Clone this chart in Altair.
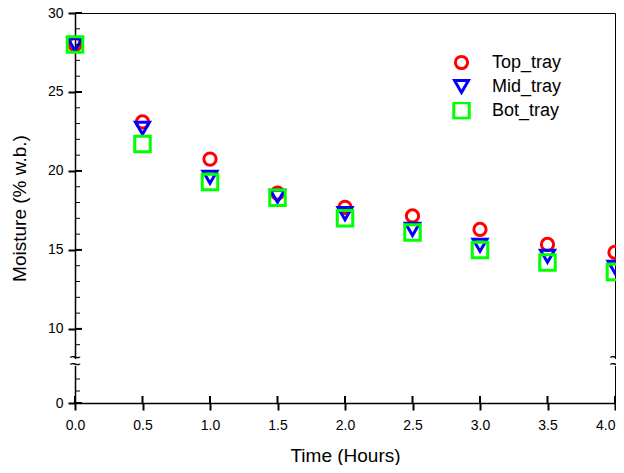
import altair as alt
import pandas as pd

# ---- data ----
time_h = [0.0, 0.5, 1.0, 1.5, 2.0, 2.5, 3.0, 3.5, 4.0]
top_tray = [28.0, 23.1, 20.75, 18.6, 17.7, 17.15, 16.3, 15.35, 14.85]
mid_tray = [28.0, 22.7, 19.6, 18.4, 17.3, 16.3, 15.3, 14.6, 13.9]
bot_tray = [28.0, 21.7, 19.3, 18.3, 17.0, 16.1, 15.0, 14.2, 13.6]

trays = ["Top_tray", "Mid_tray", "Bot_tray"]
colors = ["#FF0000", "#0000FF", "#00FF00"]
shapes = ["circle", "triangle-down", "square"]
sizes = [150, 240, 170]

x_ticks = [0.0, 0.5, 1.0, 1.5, 2.0, 2.5, 3.0, 3.5, 4.0]
y_major = [0, 10, 15, 20, 25, 30]
y_minor = [1, 2, 9, 11, 12, 13, 14, 16, 17, 18, 19, 21, 22, 23, 24, 26, 27, 28, 29]
y_break = [5.37]

rows = []
for name, vals in zip(trays, [top_tray, mid_tray, bot_tray]):
    for t, v in zip(time_h, vals):
        rows.append({"Time": t, "Moisture": v, "Tray": name})
df = pd.DataFrame(rows)

W, H = 540, 390
FONT = "Liberation Sans"

xscale = alt.Scale(domain=[0, 4], nice=False, zero=False)
# broken y axis: piecewise linear scale
yscale = alt.Scale(domain=[0, 2, 9, 30], range=[390, 366, 331.7, 0], nice=False, zero=False)

leg = alt.Legend(title=None, orient="none", legendX=377, legendY=41, padding=0,
                 labelFontSize=18, labelFont=FONT, labelColor="black", labelOffset=21,
                 rowPadding=5, clipHeight=17, symbolStrokeWidth=3, symbolFillColor="transparent")

points = alt.Chart(df).mark_point(filled=False, strokeWidth=3, opacity=1).encode(
    x=alt.X("Time:Q", scale=xscale,
            axis=alt.Axis(values=x_ticks, format=".1f", title="Time (Hours)",
                          titleX=W / 2, titleY=58, titleBaseline="alphabetic", titleAlign="center",
                          labelPadding=8, labelFlush=False,
                          labelAlign={"condition": {"test": "datum.value >= 4", "value": "right"},
                                      "value": "center"})),
    y=alt.Y("Moisture:Q", scale=yscale,
            axis=alt.Axis(values=y_major, format="d", title="Moisture (% w.b.)",
                          titleX=-50, titleY=H / 2, titleAngle=270, titleBaseline="alphabetic",
                          titleAlign="center", labelPadding=5, labelFlush=False)),
    color=alt.Color("Tray:N", scale=alt.Scale(domain=trays, range=colors), legend=leg),
    shape=alt.Shape("Tray:N", scale=alt.Scale(domain=trays, range=shapes), legend=leg),
    size=alt.Size("Tray:N", scale=alt.Scale(domain=trays, range=sizes), legend=leg),
)

# inward halves of the crossing ticks
ymaj_df = pd.DataFrame({"Moisture": y_major})
ymin_df = pd.DataFrame({"Moisture": y_minor})
x_df = pd.DataFrame({"Time": x_ticks})

ymaj_in = alt.Chart(ymaj_df).mark_rule(color="black", strokeWidth=2).encode(
    y=alt.Y("Moisture:Q", scale=yscale), x=alt.value(0), x2=alt.value(7))
ymin_in = alt.Chart(ymin_df).mark_rule(color="black", strokeWidth=1).encode(
    y=alt.Y("Moisture:Q", scale=yscale), x=alt.value(0), x2=alt.value(5))
x_in = alt.Chart(x_df).mark_rule(color="black", strokeWidth=2).encode(
    x=alt.X("Time:Q", scale=xscale), y=alt.value(H), y2=alt.value(H - 7))

# axis break marks
brk_df = pd.DataFrame({"Moisture": [b - 0.7 for b in y_break], "M2": [b + 0.7 for b in y_break]})
brk_txt = pd.DataFrame({"Moisture": y_break})
gaps = []
tildes = []
for xv in [0, W]:
    gaps.append(alt.Chart(brk_df).mark_rule(color="white", strokeWidth=6).encode(
        y=alt.Y("Moisture:Q", scale=yscale), y2="M2:Q", x=alt.value(xv)))
    for dy in [-4, 3]:
        tildes.append(alt.Chart(brk_txt).mark_text(text="~", fontSize=20, font=FONT, color="black",
                                                   baseline="middle", align="center", dy=dy).encode(
            y=alt.Y("Moisture:Q", scale=yscale), x=alt.value(xv)))

chart = alt.layer(points, ymaj_in, ymin_in, x_in, *gaps, *tildes).properties(
    width=W, height=H,
    autosize=alt.AutoSizeParams(type="none"),
    padding={"left": 67, "top": 5, "right": 1, "bottom": 62},
).configure(font=FONT).configure_view(
    stroke="black", strokeWidth=1
).configure_axis(
    grid=False, domainColor="black", domainWidth=1.5, tickColor="black", tickWidth=2,
    tickSize=7, labelFont=FONT, labelFontSize=14, labelColor="black",
    titleFont=FONT, titleFontSize=19, titleFontWeight="normal", titleColor="black",
)

chart.save("out.html", embed_options={"renderer": "svg", "actions": False})
